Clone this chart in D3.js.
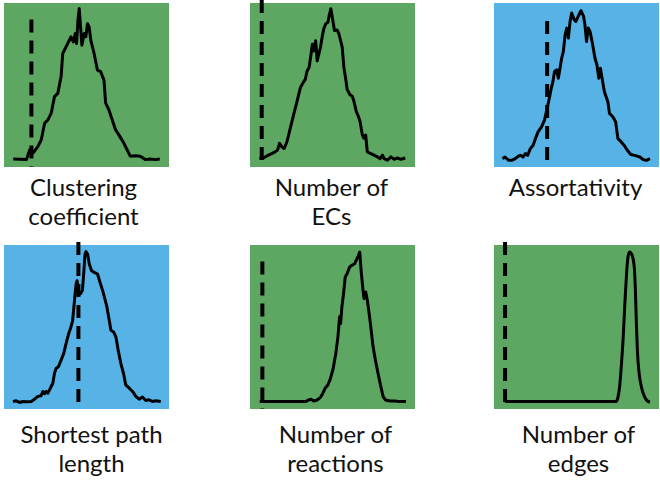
<!DOCTYPE html>
<html>
<head>
<meta charset="utf-8">
<script src="https://cdn.jsdelivr.net/npm/d3@7"></script>
<style>
  body { margin: 0; background: #fff; }
  svg { display: block; }
  .label { font-family: Lato, "Open Sans", sans-serif; font-size: 24px; fill: #111; }
</style>
</head>
<body>
<div id="chart"></div>
<script>
var svgWidth = 660;
var svgHeight = 481;

// panel labels, backgrounds and the observed value (dashed line), row by row
var labels = [['Clustering', 'coefficient'], ['Number of', 'ECs'], ['Assortativity'],
              ['Shortest path', 'length'], ['Number of', 'reactions'], ['Number of', 'edges']];
var colors = ['#5ea762', '#5ea762', '#57b3e6', '#57b3e6', '#5ea762', '#5ea762'];
var observed = [16.6, 7.1, 32.2, 45.1, 7.5, 6.7];
var dashTop = [90, 100, 89, 100, 90, 100];

// random-network distributions, [value, frequency] (both scaled 0-100)
var clustering = [[5.6,4.9],[13.6,4.5],[15.6,10.5],[17.6,8.5],[20.6,12.6],[22.6,16.6],[24.6,26.7],
  [26.6,28.7],[28.6,32.8],[30.6,42.9],[32.6,44.9],[34.6,55.1],[35.6,69.2],[37.6,73.3],[39.6,77.3],
  [40.6,79.4],[42,76.3],[43.2,81.4],[44,75.3],[44.8,89.5],[45.6,96.6],[46.4,85.4],[47.2,74.3],
  [48.6,81.4],[49.6,79.4],[50.6,87.4],[51.6,85.4],[52.6,77.3],[54.6,69.2],[56.6,59.1],[58.6,58.1],
  [60.6,53],[61.6,38.9],[63.6,34.8],[65.6,28.7],[67.6,22.7],[69.6,19.6],[72.6,14.6],[74.6,10.5],
  [76.6,6.5],[79.6,6.9],[82.6,6.5],[85.6,4.5],[88.6,4.9],[91.6,4.5],[94.4,4.9]];

var numECs = [[5.7,5.1],[8.1,5.5],[11.2,7.2],[13.2,8.2],[15.2,9.2],[16.7,10.3],[17.9,14.4],[19.3,12.3],
  [20.7,11.3],[22.4,15.4],[24.4,23.6],[26.4,31.8],[28.5,40],[30.5,48.3],[32.1,51.3],[33.5,53.4],
  [34.6,58.5],[35.8,60.6],[37,68.8],[37.8,74.9],[38.6,70.8],[39.8,77],[40.7,64.7],[41.7,68.8],
  [42.7,72.9],[43.7,79.1],[44.7,84.2],[45.9,87.3],[47.2,88.3],[48,92.4],[49,96.5],[50.2,89.3],
  [51.2,83.2],[52.8,83.6],[53.9,81.1],[54.9,77],[55.9,72.9],[56.9,60.6],[57.9,54.4],[58.9,47.2],
  [60.6,44.1],[62,43.1],[63,40],[64.4,33.9],[65.7,30.8],[66.7,27.7],[68.1,19.5],[69.1,17.5],
  [70.1,19.5],[71.1,9.2],[73.2,8.2],[75.2,7.2],[77.2,6.2],[78.9,5.1],[80.3,7.2],[81.3,5.1],
  [83.3,4.1],[85.4,6.2],[87.4,4.7],[89.4,5.5],[91.5,4.7],[94.1,5.5]];

var assortativity = [[5.1,5.1],[6.7,6.1],[8.8,4.1],[10.8,4.1],[12.9,5.1],[14.9,6.7],[16.3,7.1],
  [17.6,6.1],[19,8.2],[20.4,7.1],[22,11.2],[23.7,13.3],[25.1,17.3],[26.7,21.4],[28.8,24.5],
  [30.6,28.6],[32.2,35.7],[33.5,41.8],[34.7,48],[35.7,52],[36.7,58.2],[38,59.2],[39,54.1],[40,60.2],
  [41,66.3],[42,70.4],[43.1,80.6],[44.1,84.7],[45.1,78.6],[46.1,88.8],[47.1,93.9],[48.6,89.8],
  [49.6,88.8],[51,91.8],[52.7,95.3],[54.3,91.8],[55.1,86.7],[56.1,76.5],[57.1,84.7],[58.2,82.7],
  [59.8,74.5],[61.2,66.3],[62.4,62.2],[63.5,54.1],[64.5,60.2],[65.5,54.1],[66.9,45.9],[69,39.8],
  [70,32.7],[72,30.6],[73.7,27.6],[75.1,17.3],[77.1,15.3],[78.8,13.3],[80.8,10.2],[82.9,7.6],
  [85.3,7.1],[88.4,6.1],[90.4,4.5],[92.4,4.1],[94.5,5.1]];

var shortestPath = [[5.4,4.6],[7.4,5],[9.5,4],[11.5,4.6],[13.5,4.4],[16.5,4.6],[18.5,6],[20.5,7.7],
  [22.5,8.1],[23.5,10.7],[24.5,9.3],[25.6,10.7],[26.6,9.7],[27.6,11.7],[28.6,13.7],[29.6,15.7],
  [30.6,21.8],[31.6,24.8],[33,25.8],[34.6,29.8],[36.2,33.9],[37.6,39.9],[39.2,46],[40.6,50],[41.6,54],
  [42.7,66.1],[43.7,76.2],[44.3,78.2],[45.1,71.2],[46.3,70.2],[47.5,72.2],[48.3,82.3],[49.1,94.4],
  [49.7,96],[50.7,94.4],[51.7,88.3],[53.1,84.3],[54.7,83.3],[56.7,82.3],[57.9,78.2],[59.8,72.2],
  [61.4,66.1],[62.4,62.1],[63.8,54],[64.8,48],[66.4,47],[67.8,44],[69.2,35.9],[70.8,27.8],[72.4,21.8],
  [73.8,14.7],[75.9,12.7],[77.9,10.7],[79.9,7.7],[81.9,6],[83.9,7.3],[85.9,5.2],[87.9,5.6],
  [89.9,4.6],[92,5],[95,4.6]];

var numReactions = [[5.9,4.5],[33.9,4.5],[35.4,5.5],[37,5.9],[38.6,4.9],[40.7,5.5],[42.7,7.1],
  [44.1,9.5],[45.5,12.6],[47.2,14.6],[48.8,18.7],[50.4,24.7],[52,33.9],[53.3,44],[54.3,56.2],
  [54.9,52.1],[55.7,62.3],[56.7,70.4],[57.7,80.5],[58.9,82.6],[60.4,86.6],[61.8,87.6],[63.4,88.6],
  [64.4,90.7],[65.4,92.7],[66.5,95.7],[67.5,82.6],[68.5,72.4],[69.1,67.3],[70.1,71.4],[71.1,66.3],
  [72.2,58.2],[73.2,50.1],[74.6,37.9],[76,29.8],[77.6,21.7],[79.3,13.6],[80.7,7.5],[82.1,5.5],
  [84.8,4.9],[87.8,4.9],[90.9,4.5],[94.5,4.5]];

var numEdges = [[6.7,4.5],[74.1,4.5],[75.1,7.1],[76.1,13.2],[77.1,25.5],[78.2,41.8],[79.2,62.1],
  [80.2,80.4],[81.2,92.7],[82.2,95.7],[83.3,94.7],[84.9,87.6],[85.7,72.3],[86.3,51.9],[86.9,35.6],
  [88,21.4],[89.4,13.2],[91,8.1],[92.4,5.5],[94.5,4.1]];

var curves = [clustering, numECs, assortativity, shortestPath, numReactions, numEdges];

var panelW = 165;
var panelH = 164;
var colLeft = [4, 250, 494];
var rowTop = [3, 245];
var labelBase = [196, 443];
var labelShift = [-3, -1, -1, 5, 3, 2];
var lineGap = 28.5;

var x = d3.scaleLinear().domain([0, 100]).range([0, panelW]);
var y = d3.scaleLinear().domain([0, 100]).range([panelH, 0]);

var svg = d3.select('#chart')
    .append('svg')
    .attr('width', svgWidth)
    .attr('height', svgHeight);

var panels = svg.selectAll('.panel')
    .data(curves)
    .enter()
    .append('g')
    .attr('class', 'panel')
    .attr('transform', (d, i) => `translate(${colLeft[i % 3]}, ${rowTop[Math.floor(i / 3)]})`);

panels.append('rect')
    .attr('width', panelW)
    .attr('height', panelH)
    .attr('fill', (d, i) => colors[i]);

panels.append('line')
    .attr('x1', (d, i) => x(observed[i]))
    .attr('x2', (d, i) => x(observed[i]))
    .attr('y1', (d, i) => y(dashTop[i]) - (dashTop[i] == 100 ? 3 : 0))
    .attr('y2', y(0))
    .attr('stroke', '#000')
    .attr('stroke-width', 4)
    .attr('stroke-dasharray', '13,8');

panels.append('path')
    .attr('fill', 'none')
    .attr('stroke', '#000')
    .attr('stroke-width', 3)
    .attr('stroke-linejoin', 'round')
    .attr('d', (d, i) => d3.line()
        .x(p => x(p[0]))
        .y(p => y(p[1]))
        .curve(i == 5 ? d3.curveMonotoneX : d3.curveLinear)(d));

panels.each(function(d, i) {
    var cx = panelW / 2 + labelShift[i];
    var t = d3.select(this).append('text')
        .attr('class', 'label')
        .attr('text-anchor', 'middle')
        .attr('x', cx)
        .attr('y', labelBase[Math.floor(i / 3)] - rowTop[Math.floor(i / 3)]);
    labels[i].forEach(function(s, k) {
        t.append('tspan')
            .attr('x', cx)
            .attr('dy', k == 0 ? 0 : lineGap)
            .text(s);
    });
});
</script>
</body>
</html>
